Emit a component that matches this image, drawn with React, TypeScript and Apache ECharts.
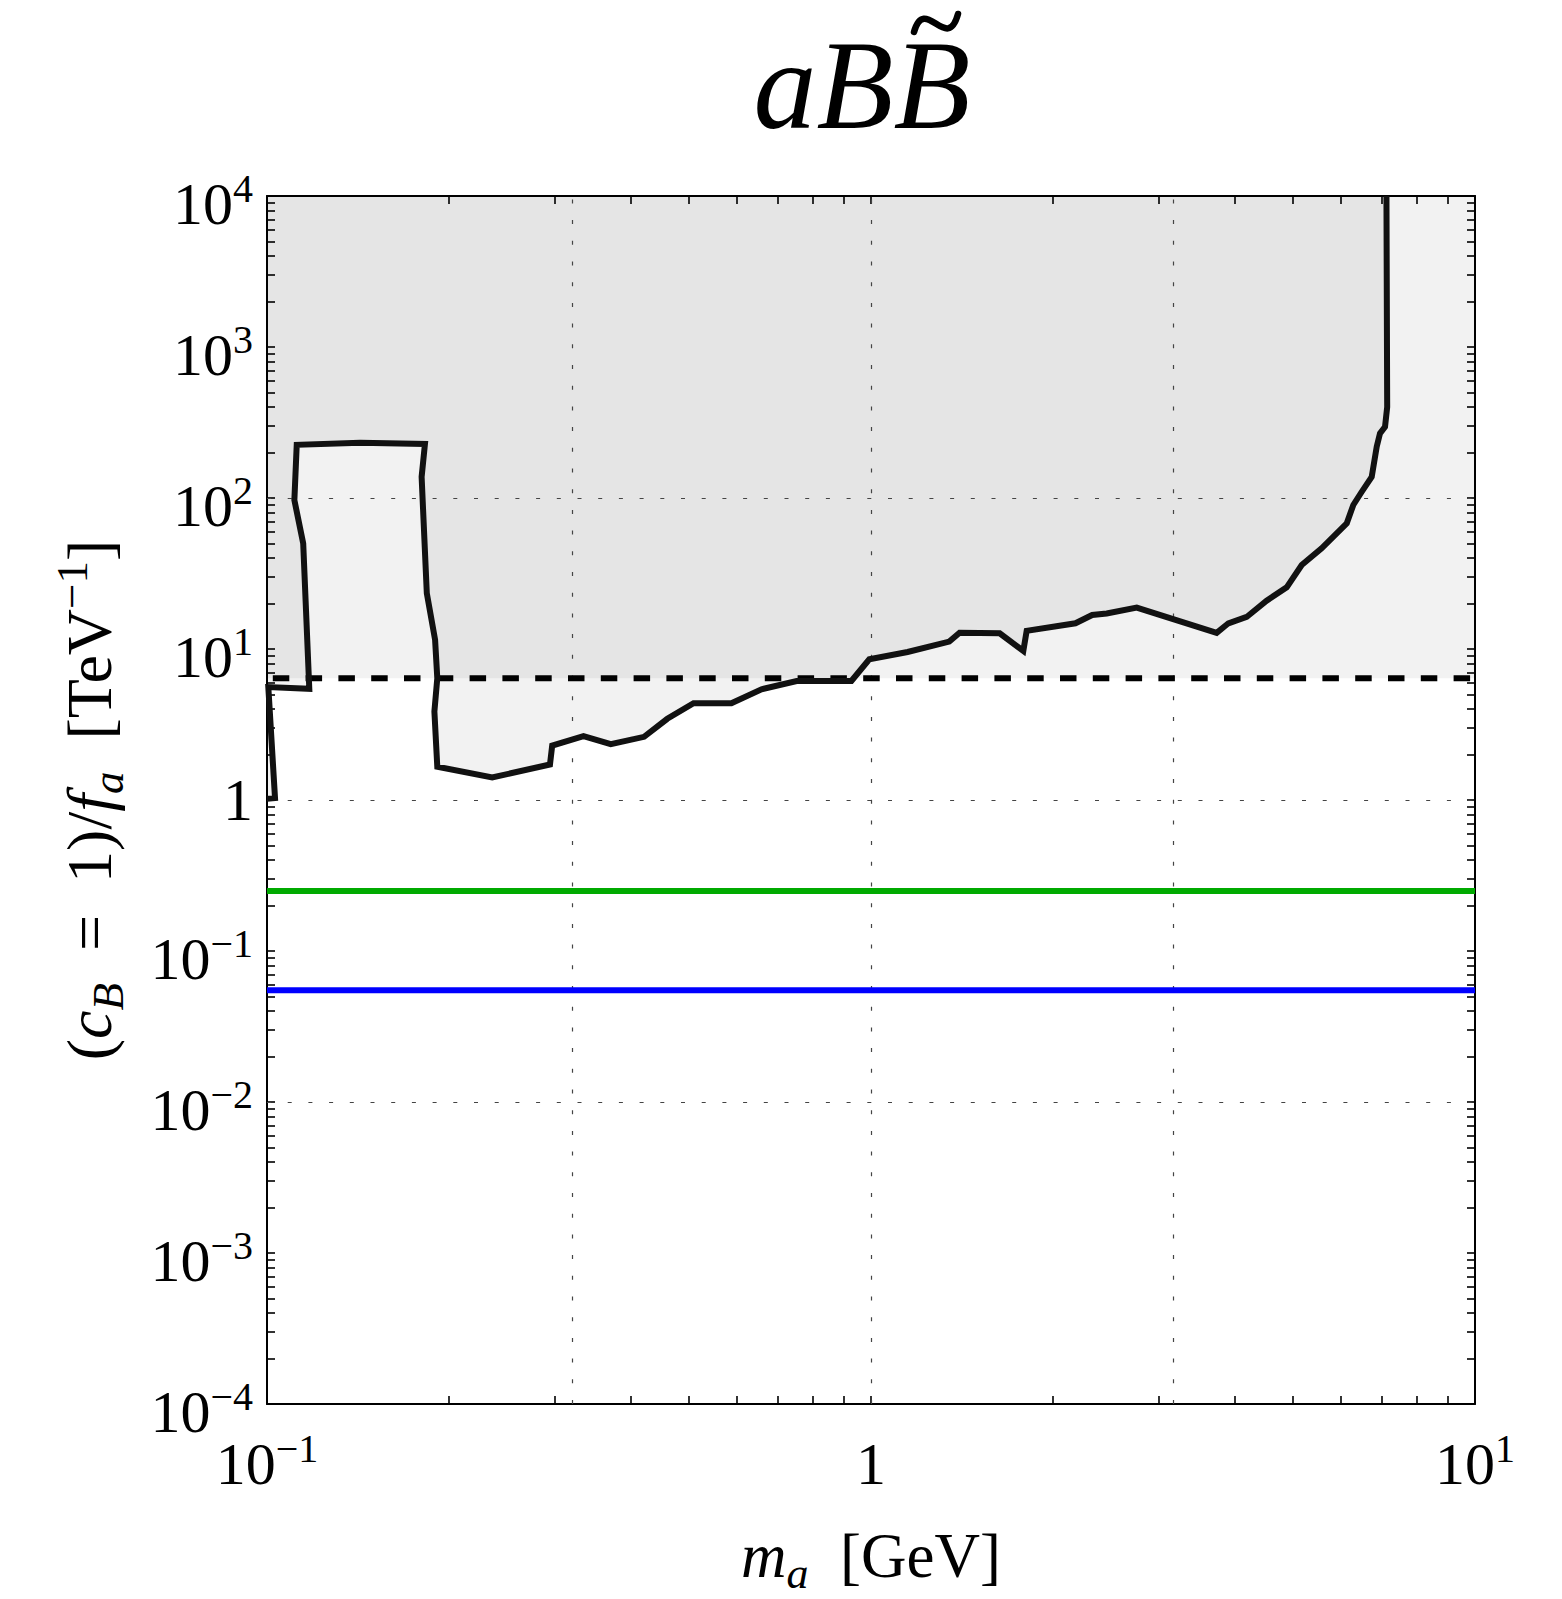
import React, { useEffect, useRef } from "react";
import * as echarts from "echarts";

// ---- data ----
const massGeV = [
  0.1, 0.1031, 0.1005, 0.1175, 0.1148, 0.111, 0.112, 0.1426, 0.1826, 0.1803, 0.1839,
  0.1898, 0.1914, 0.1893, 0.1914, 0.236, 0.2941, 0.2966, 0.3342, 0.3708, 0.421,
  0.46, 0.5084, 0.5873, 0.6588, 0.7532, 0.928, 0.9935, 1.1496, 1.3477, 1.4018,
  1.6334, 1.7873, 1.8102, 2.1802, 2.3239, 2.456, 2.754, 3.735, 3.905, 4.188,
  4.519, 4.878, 5.165, 5.573, 6.133, 6.288, 6.494, 6.745, 6.876, 6.962,
  7.096, 7.155, 7.135,
];
const coupling = [
  1.02, 1.03, 5.6, 5.45, 50, 97, 225, 232, 228, 138, 23.4,
  11.5, 6.4, 3.85, 1.66, 1.41, 1.72, 2.29, 2.65, 2.34, 2.62,
  3.45, 4.37, 4.37, 5.41, 6.14, 6.14, 8.55, 9.55, 11.2, 12.8,
  12.7, 9.7, 13.2, 14.8, 16.8, 17.2, 18.8, 12.8, 14.8, 16.3,
  20.9, 25.6, 36.0, 46.4, 68.0, 89.9, 110, 138, 219, 268,
  296, 400, 10000,
];
const referenceLevel = 6.4; // dashed black
const greenLevel = 0.25;
const blueLevel = 0.055;
const xRange = [0.1, 10];
const yRange = [1e-4, 1e4];
const gridMass = [0.316228, 1, 3.16228];
const gridCoupling = [0.01, 1, 100];

const SERIF = "'Liberation Serif', 'Times New Roman', serif";
const FILL = "rgba(0,0,0,0.052)";

const tickRich: any = {
  b: { fontFamily: SERIF, fontSize: 60, color: "#000", height: 60, lineHeight: 76, verticalAlign: "bottom" },
  s: { fontFamily: SERIF, fontSize: 40, color: "#000", height: 60, lineHeight: 76, verticalAlign: "top" },
  o: { fontFamily: SERIF, fontSize: 60, color: "#000", height: 60, lineHeight: 60 },
  ox: { fontFamily: SERIF, fontSize: 60, color: "#000", height: 60, lineHeight: 76, verticalAlign: "bottom" },
};

function powLabel(v: number, single: string) {
  const e = Math.round(Math.log10(v));
  if (e === 0) return "{" + single + "|1}";
  return "{b|10}{s|" + (e < 0 ? "\u2212" + -e : String(e)) + "}";
}

const nameRich = (fs: number) => {
  const sub = Math.round(fs * 0.7);
  const lh = Math.round(fs * 1.26);
  return {
    n: { fontFamily: SERIF, fontSize: fs, color: "#000", height: fs, lineHeight: lh },
    i: { fontFamily: SERIF, fontStyle: "italic", fontSize: fs, color: "#000", height: fs, lineHeight: lh },
    sb: { fontFamily: SERIF, fontStyle: "italic", fontSize: sub, color: "#000", height: sub, lineHeight: lh, verticalAlign: "bottom" },
    sp: { fontFamily: SERIF, fontSize: sub, color: "#000", height: sub, lineHeight: lh, verticalAlign: "top" },
  } as any;
};

export default function App() {
  const ref = useRef<HTMLDivElement>(null);
  useEffect(() => {
    document.body.style.margin = "0";
    const chart = echarts.init(ref.current!, null, { renderer: "svg" });
    const curve = massGeV.map((m, i) => [m, coupling[i]]);
    const flat = (v: number) => [
      [xRange[0], v],
      [xRange[1], v],
    ];
    const axisLine = { show: true, onZero: false, lineStyle: { color: "#000", width: 2 } };
    const tick = { show: true, inside: true, length: 8, lineStyle: { color: "#000", width: 1.6 } };
    const minor = { show: true, splitNumber: 9, length: 8, lineStyle: { color: "#000", width: 1.6 } };
    const option: any = {
      animation: false,
      backgroundColor: "#fff",
      grid: {
        left: 267,
        top: 196,
        width: 1208,
        height: 1208,
        containLabel: false,
        outerBoundsMode: "none",
      },
      xAxis: [
        {
          type: "log",
          logBase: 10,
          min: xRange[0],
          max: xRange[1],
          position: "bottom",
          axisLine,
          axisTick: tick,
          minorTick: minor,
          splitLine: { show: false },
          axisLabel: { margin: 14, formatter: (v: number) => powLabel(v, "ox"), rich: tickRich },
          name: "{i|m}{sb|a}{n|  [GeV]}",
          nameLocation: "middle",
          nameGap: 112,
          nameTextStyle: { rich: nameRich(63) },
        },
        {
          type: "log",
          logBase: 10,
          min: xRange[0],
          max: xRange[1],
          position: "top",
          axisLine,
          axisTick: tick,
          minorTick: minor,
          splitLine: { show: false },
          axisLabel: { show: false },
        },
      ],
      yAxis: [
        {
          type: "log",
          logBase: 10,
          min: yRange[0],
          max: yRange[1],
          position: "left",
          axisLine,
          axisTick: tick,
          minorTick: minor,
          splitLine: { show: false },
          axisLabel: { margin: 14, formatter: (v: number) => powLabel(v, "o"), rich: tickRich },
          name: "{n|(}{i|c}{sb|B}{n|  =  1)/}{i|f}{sb|a}{n|  [TeV}{sp|\u22121}{n|]}",
          nameLocation: "middle",
          nameRotate: 90,
          nameGap: 137,
          nameTextStyle: { rich: nameRich(64) },
        },
        {
          type: "log",
          logBase: 10,
          min: yRange[0],
          max: yRange[1],
          position: "right",
          axisLine,
          axisTick: tick,
          minorTick: minor,
          splitLine: { show: false },
          axisLabel: { show: false },
        },
      ],
      graphic: [
        {
          type: "text",
          x: 862,
          y: 85,
          z: 10,
          style: {
            text: "aBB",
            font: "italic 126px 'Liberation Serif'",
            fill: "#000",
            align: "center",
            verticalAlign: "middle",
            textAlign: "center",
            textVerticalAlign: "middle",
          },
        },
        {
          // the tilde accent over the last B
          type: "bezierCurve",
          z: 10,
          silent: true,
          shape: { x1: 914, y1: 32, cpx1: 925, cpy1: -6, cpx2: 947, cpy2: 54, x2: 958, y2: 14 },
          style: { stroke: "#000", lineWidth: 6.5, fill: "none", lineCap: "round" },
        },
      ],
      series: [
        {
          name: "excluded region",
          type: "line",
          data: curve,
          symbol: "none",
          lineStyle: { width: 0 },
          areaStyle: { color: FILL, origin: "end", opacity: 1 },
          z: 1,
          silent: true,
        },
        {
          name: "reference region",
          type: "line",
          data: flat(referenceLevel),
          symbol: "none",
          lineStyle: { width: 0 },
          areaStyle: { color: FILL, origin: "end", opacity: 1 },
          z: 1,
          silent: true,
        },
        {
          name: "grid",
          type: "line",
          data: [],
          z: 3,
          silent: true,
          markLine: {
            silent: true,
            animation: false,
            symbol: ["none", "none"],
            label: { show: false },
            lineStyle: { color: "#444", width: 1.2, type: [4, 16.7] },
            data: [
              ...gridMass.map((v) => ({ xAxis: v })),
              ...gridCoupling.map((v) => ({ yAxis: v })),
            ],
          },
        },
        {
          name: "green",
          type: "line",
          data: flat(greenLevel),
          symbol: "none",
          lineStyle: { color: "#00aa00", width: 6 },
          z: 5,
          silent: true,
        },
        {
          name: "blue",
          type: "line",
          data: flat(blueLevel),
          symbol: "none",
          lineStyle: { color: "#0000ff", width: 6 },
          z: 5,
          silent: true,
        },
        {
          name: "reference",
          type: "line",
          data: flat(referenceLevel),
          symbol: "none",
          lineStyle: { color: "#000", width: 6, type: [16.5, 16.3], dashOffset: 26.6 },
          z: 6,
          silent: true,
        },
        {
          name: "bound",
          type: "line",
          data: curve,
          symbol: "none",
          lineStyle: { color: "#111", width: 6, join: "miter", miterLimit: 4 },
          z: 7,
          silent: true,
        },
      ],
    };
    chart.setOption(option);
    return () => chart.dispose();
  }, []);
  return <div ref={ref} style={{ width: 1562, height: 1599 }} />;
}
